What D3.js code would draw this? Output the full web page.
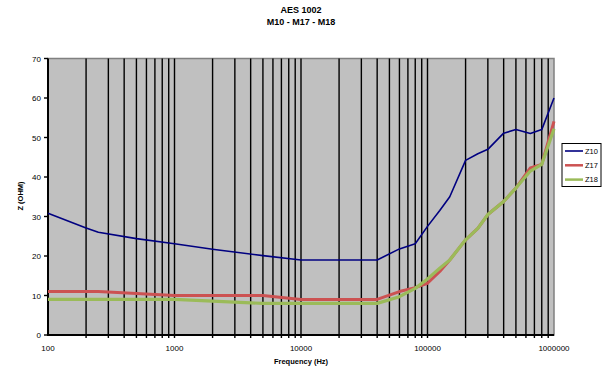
<!DOCTYPE html>
<html>
<head>
<meta charset="utf-8">
<script src="https://cdn.jsdelivr.net/npm/d3@7"></script>
<style>
  body { margin: 0; background: #fff; }
  svg { display: block; font-family: Arial, "Liberation Sans", sans-serif; }
</style>
</head>
<body>
<svg id="chart" width="603" height="371"></svg>
<script>
// measurement frequencies (Hz) and impedance readings (ohm)
const freqs = [100, 200, 250, 500, 1000, 2000, 5000, 10000, 40000, 60000, 80000,
               100000, 125000, 150000, 200000, 250000, 300000, 400000, 500000, 650000, 800000, 1000000];
const z10 = [30.8, 27.1, 26, 24.4, 23.1, 21.7, 20.1, 19, 19, 21.8, 23.1,
             27.5, 31.5, 35, 44.2, 45.9, 47, 51.1, 52, 51, 52, 60];
const z17 = [11, 11, 11, 10.5, 10, 10, 10, 9, 9, 11, 12,
             13.1, 16.1, 19, 24.1, 27, 30.5, 33.8, 37.2, 42.3, 43.2, 54.1];
const z18 = [9, 9, 9, 9, 9, 8.6, 8, 8, 8, 9.7, 11.8,
             14.2, 16.9, 19, 24.1, 27, 30.5, 33.8, 37.2, 41.5, 43.2, 52.2];

const seriesNames  = ['Z10', 'Z17', 'Z18'];
const seriesColors = ['#000080', '#cc5252', '#9bbb59'];
const seriesWidths = [1.6, 3, 3.2];
const yTicks = [0, 10, 20, 30, 40, 50, 60, 70];
const xLabels = [100, 1000, 10000, 100000, 1000000];

const svg = d3.select('#chart');
const x = d3.scaleLog().domain([100, 1e6]).range([48, 554]);
const y = d3.scaleLinear().domain([0, 70]).range([335, 58.5]);

// ── Titles ────────────────────────────────────────────────────────────────────
svg.append('text').attr('x', 301).attr('y', 13).attr('text-anchor', 'middle')
  .style('font-size', '9px').style('font-weight', 'bold').text('AES 1002');
svg.append('text').attr('x', 301).attr('y', 25).attr('text-anchor', 'middle')
  .style('font-size', '9px').style('font-weight', 'bold').text('M10 - M17 - M18');

// ── Plot area ─────────────────────────────────────────────────────────────────
svg.append('rect')
  .attr('x', x(100)).attr('y', y(70))
  .attr('width', x(1e6) - x(100)).attr('height', y(0) - y(70))
  .attr('fill', '#c0c0c0').attr('stroke', '#808080').attr('stroke-width', 1.5);

// vertical grid
const gridVals = x.ticks().filter(v => v > 100 && v < 1e6);
svg.append('g').selectAll('line').data(gridVals).enter().append('line')
  .attr('x1', d => x(d)).attr('x2', d => x(d))
  .attr('y1', y(70)).attr('y2', y(0) + 3)
  .attr('stroke', '#000').attr('stroke-width', 1.4);

// axes lines
svg.append('line').attr('x1', x(100)).attr('x2', x(100)).attr('y1', y(70)).attr('y2', y(0))
  .attr('stroke', '#000').attr('stroke-width', 2);
svg.append('line').attr('x1', x(100) - 1).attr('x2', x(1e6)).attr('y1', y(0)).attr('y2', y(0))
  .attr('stroke', '#000').attr('stroke-width', 2);

// y ticks + labels
const yg = svg.append('g');
yg.selectAll('line').data(yTicks).enter().append('line')
  .attr('x1', x(100) - 4).attr('x2', x(100)).attr('y1', d => y(d)).attr('y2', d => y(d))
  .attr('stroke', '#000').attr('stroke-width', 1.4);
yg.selectAll('text').data(yTicks).enter().append('text')
  .attr('x', 41).attr('y', d => y(d) + 3).attr('text-anchor', 'end')
  .style('font-size', '8px').text(d => d);

// x labels
svg.append('g').selectAll('text').data(xLabels).enter().append('text')
  .attr('x', d => x(d)).attr('y', 351).attr('text-anchor', 'middle')
  .style('font-size', '8px').text(d => d);

// axis titles
svg.append('text').attr('x', 301).attr('y', 364).attr('text-anchor', 'middle')
  .style('font-size', '7.5px').style('font-weight', 'bold').text('Frequency (Hz)');
svg.append('text').attr('transform', 'translate(23,196) rotate(-90)').attr('text-anchor', 'middle')
  .style('font-size', '7.5px').style('font-weight', 'bold').text('Z (OHM)');

// ── Series ────────────────────────────────────────────────────────────────────
const line = d3.line().x((d, i) => x(freqs[i])).y(d => y(d));
[z10, z17, z18].forEach((s, i) => {
  svg.append('path').datum(s).attr('d', line)
    .attr('fill', 'none').attr('stroke', seriesColors[i])
    .attr('stroke-width', seriesWidths[i]).attr('stroke-linejoin', 'round');
});

// ── Legend ────────────────────────────────────────────────────────────────────
const lg = svg.append('g').attr('transform', 'translate(562,143.5)');
lg.append('rect').attr('width', 39).attr('height', 43)
  .attr('fill', '#fff').attr('stroke', '#000').attr('stroke-width', 1);
seriesNames.forEach((n, i) => {
  const ly = 7.5 + i * 14.3;
  lg.append('line').attr('x1', 3).attr('x2', 21).attr('y1', ly).attr('y2', ly)
    .attr('stroke', seriesColors[i]).attr('stroke-width', i === 0 ? 1.6 : 2.5);
  lg.append('text').attr('x', 23).attr('y', ly + 2.8)
    .style('font-size', '7.5px').text(n);
});
</script>
</body>
</html>
